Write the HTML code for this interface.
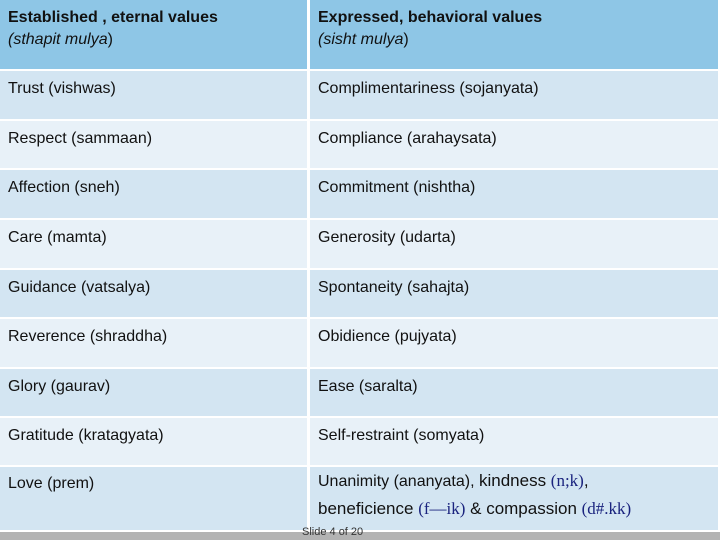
<!DOCTYPE html>
<html><head><meta charset="utf-8"><style>
body{margin:0;width:720px;height:540px;overflow:hidden;background:#fff;font-family:"Liberation Sans",sans-serif;position:relative}
.c{position:absolute;box-sizing:border-box;padding:0 0 0 8px;font-size:16px;color:#111}
.h{background:#8ec6e6;font-weight:bold}
.o{background:#d3e5f2}
.e{background:#e8f1f8}
.t{position:absolute;top:9px;left:8px;line-height:22px}
.dv{color:#1a237e;font-family:"Liberation Serif",serif}
</style></head><body>
<div class="c h" style="left:0;top:0;width:307px;height:69px"><div class="t" style="top:7px">Established , eternal values<br><span style="font-weight:normal;font-style:italic">(sthapit mulya</span><span style="font-weight:normal">)</span></div></div>
<div class="c h" style="left:310px;top:0;width:408px;height:69px"><div class="t" style="top:7px">Expressed, behavioral values<br><span style="font-weight:normal;font-style:italic">(sisht mulya</span><span style="font-weight:normal">)</span></div></div>
<div id="rows"></div>
<div style="position:absolute;left:0;top:532px;width:720px;height:8px;background:#b3b3b3"></div>
<div style="position:absolute;left:302px;top:526px;font-size:11px;color:#333;line-height:12px">Slide 4 of 20</div>
<script>
const left=["Trust (vishwas)","Respect (sammaan)","Affection (sneh)","Care (mamta)","Guidance (vatsalya)","Reverence (shraddha)","Glory (gaurav)","Gratitude (kratagyata)","Love (prem)"];
const right=["Complimentariness (sojanyata)","Compliance (arahaysata)","Commitment (nishtha)","Generosity (udarta)","Spontaneity (sahajta)","Obidience (pujyata)","Ease (saralta)","Self-restraint (somyata)"];
const tops=[71,121,170,220,270,319,369,418,467];
const root=document.getElementById('rows');
for(let i=0;i<9;i++){
  const h=(i<8?tops[i+1]:532)-tops[i]-2;
  const cls=i%2==0?'o':'e';
  const a=document.createElement('div');
  a.className='c '+cls;a.style.cssText=`left:0;top:${tops[i]}px;width:307px;height:${h}px`;
  
  
  a.innerHTML=`<div class="t" style="top:${i==8?6:7}px">${left[i]}</div>`;
  root.appendChild(a);
  const b=document.createElement('div');
  b.className='c '+cls;b.style.cssText=`left:310px;top:${tops[i]}px;width:408px;height:${h}px`;
  
  
  if(i<8) b.innerHTML=`<div class="t" style="top:7px">${right[i]}</div>`;
  else b.innerHTML=`<div class="t" style="top:0px;line-height:27px">Unanimity (ananyata), <span style="font-size:17px">kindness <span class="dv">(n;k)</span>,<br>beneficience <span class="dv">(f—ik)</span> &amp; compassion <span class="dv">(d#.kk)</span></span></div>`;
  root.appendChild(b);
}
</script>
</body></html>
